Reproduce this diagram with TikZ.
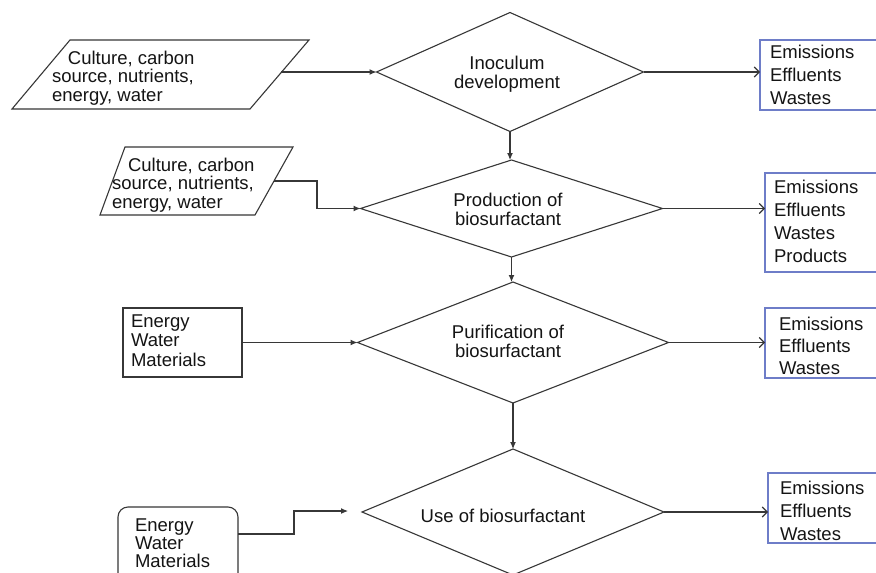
\documentclass[tikz,border=0pt]{standalone}
\usepackage{fontspec}
\setmainfont{Liberation Sans}
\usetikzlibrary{arrows.meta,shapes.geometric}
\definecolor{ink}{RGB}{55,55,55}
\definecolor{outblue}{RGB}{110,125,200}
\definecolor{txt}{RGB}{20,20,20}
\tikzset{
  stage/.style={shape=diamond, draw=ink, line width=1.1pt, inner sep=0pt, outer sep=0pt},
  inbox/.style={rectangle, draw=ink, line width=1.1pt, inner sep=0pt, outer sep=0pt},
  outbox/.style={rectangle, draw=outblue, line width=1.1pt, inner sep=0pt, outer sep=0pt},
  % multi-line texts are placed by the baseline of their last line
  words/.style={inner sep=0pt, outer sep=0pt, text=txt, align=left, anchor=base west,
    font=\fontsize{18.5}{18.5}\selectfont},
  outwords/.style={words, font=\fontsize{18.5}{23}\selectfont},
  stagewords/.style={inner sep=0pt, outer sep=0pt, text=txt, align=center, anchor=base,
    font=\fontsize{18.5}{18.5}\selectfont},
  feed/.style={draw=ink, line width=1.1pt, -{Latex[length=7pt,width=6pt]}},
  emit/.style={draw=ink, line width=1.1pt, -{Straight Barb[length=5pt,width=10pt]}}
}
\begin{document}
\begin{tikzpicture}[x=1pt,y=-1pt]
\useasboundingbox (0,0) rectangle (876,573);
\clip (0,0) rectangle (876,573);
\fill[white] (0,0) rectangle (876,573);

% process stages
\node[stage, minimum width=267pt, minimum height=119pt] (d1) at (510,72) {};
\node[stage, minimum width=302pt, minimum height=97pt]  (d2) at (511.5,208.5) {};
\node[stage, minimum width=311pt, minimum height=121pt] (d3) at (513,342.5) {};
\node[stage, minimum width=302pt, minimum height=126pt] (d4) at (513,512) {};
\node[stagewords] (t1) at (507,88)  {Inoculum\\development};
\node[stagewords] (t2) at (508,225) {Production of\\biosurfactant};
\node[stagewords] (t3) at (508,357) {Purification of\\biosurfactant};
\node[stagewords] (t4) at (503,522) {Use of biosurfactant};

% inputs
\draw[ink, line width=1.1pt, fill=white] (70,40) -- (309,40) -- (250,109) -- (12,109) -- cycle;
\node[words] (p1) at (52,101) {\hspace*{16pt}Culture,\ carbon\\source, nutrients,\\energy,\ water};
\coordinate (p1out) at (281,72);
\draw[ink, line width=1.1pt, fill=white] (125,147) -- (293,147) -- (255,215) -- (100,215) -- cycle;
\node[words] (p2) at (112,208) {\hspace*{16pt}Culture,\ carbon\\source, nutrients,\\energy,\ water};
\coordinate (p2out) at (274,181);
\coordinate (p2bend) at (317,0);

\node[inbox, minimum width=119pt, minimum height=69pt] (l3) at (182.5,342.5) {};
\node[words, font=\fontsize{18.5}{19.5}\selectfont] (l3t) at (131,366) {Energy\\Water\\Materials};

\node[inbox, rounded corners=10pt, minimum width=120pt, minimum height=83pt] (l4) at (178,548.5) {};
\node[words, font=\fontsize{18.5}{18}\selectfont] (l4t) at (135,567) {Energy\\Water\\Materials};
\coordinate (l4out) at (238,534);
\coordinate (l4bend) at (294,0);
\coordinate (l4tip) at (348,511);

% outputs
\node[outbox, minimum width=120pt, minimum height=70pt] (r1) at (820,75) {};
\node[outwords] (r1t) at (770,104) {Emissions\\Effluents\\Wastes};
\node[outbox, minimum width=115pt, minimum height=99pt] (r2) at (822.5,222.5) {};
\node[outwords] (r2t) at (774,262) {Emissions\\Effluents\\Wastes\\Products};
\node[outbox, minimum width=115pt, minimum height=70pt] (r3) at (822.5,343) {};
\node[outwords, font=\fontsize{18.5}{22}\selectfont] (r3t) at (779,374) {Emissions\\Effluents\\Wastes};
\node[outbox, minimum width=112pt, minimum height=70pt] (r4) at (824,508) {};
\node[outwords] (r4t) at (780,540) {Emissions\\Effluents\\Wastes};

% connectors
\draw[feed] (p1out) -- (d1.west);
\draw[emit] (d1.east) -- (d1.east -| r1.west);
\draw[feed] (d1.south) -- (d1.south |- d2.north);
\draw[feed] (p2out) -| (p2bend |- d2.west) -- (d2.west);
\draw[emit] (d2.east) -- (d2.east -| r2.west);
\draw[feed] (d2.south) -- (d2.south |- d3.north);
\draw[feed] (l3.east) -- (d3.west);
\draw[emit] (d3.east) -- (d3.east -| r3.west);
\draw[feed] (d3.south) -- (d3.south |- d4.north);
\draw[feed] (l4out) -| (l4bend |- l4tip) -- (l4tip);
\draw[emit] (d4.east) -- (d4.east -| r4.west);
\end{tikzpicture}
\end{document}
